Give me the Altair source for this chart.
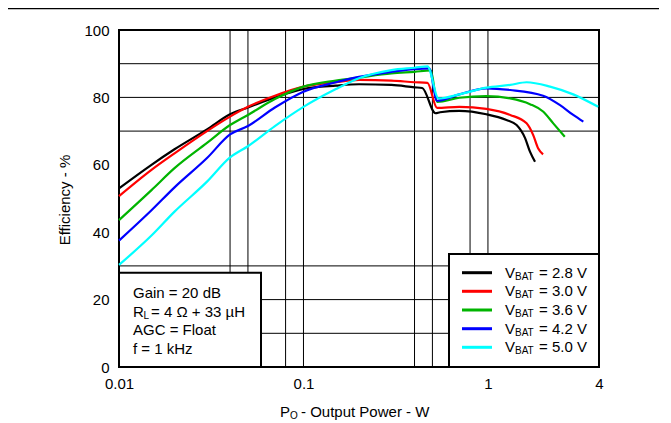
import altair as alt
import pandas as pd

# ---------------- data ----------------
series_names = ["2.8 V", "3.0 V", "3.6 V", "4.2 V", "5.0 V"]
series_colors = ["#000000", "#ff0000", "#00b400", "#0000ff", "#00ffff"]

x_28 = [0.01, 0.015, 0.02, 0.03, 0.04, 0.05, 0.07, 0.1, 0.15, 0.2, 0.3, 0.4, 0.44, 0.52, 0.55, 0.7, 0.98, 1.26, 1.43, 1.59, 1.69, 1.8]
y_28 = [53.0, 60.0, 64.6, 70.5, 75.0, 77.0, 80.0, 82.5, 83.5, 83.9, 83.7, 83.0, 82.8, 75.3, 75.6, 76.0, 75.0, 73.3, 71.8, 67.9, 63.9, 60.9]

x_30 = [0.01, 0.015, 0.02, 0.03, 0.04, 0.05, 0.07, 0.1, 0.15, 0.2, 0.3, 0.4, 0.47, 0.53, 0.7, 0.98, 1.32, 1.62, 1.76, 1.87, 1.99]
y_30 = [50.7, 58.5, 63.4, 70.0, 74.3, 77.2, 80.5, 83.2, 84.5, 85.2, 85.0, 84.5, 84.3, 76.9, 77.2, 76.6, 74.8, 72.3, 68.8, 64.9, 63.1]

x_36 = [0.01, 0.015, 0.02, 0.03, 0.04, 0.05, 0.07, 0.1, 0.15, 0.2, 0.3, 0.4, 0.49, 0.53, 0.7, 0.98, 1.32, 1.69, 1.99, 2.26, 2.61]
y_36 = [43.6, 52.5, 59.0, 66.5, 71.8, 74.8, 79.5, 83.2, 85.0, 85.9, 87.1, 87.6, 88.0, 78.7, 79.9, 80.4, 79.7, 78.0, 75.8, 72.3, 68.3]

x_42 = [0.01, 0.015, 0.02, 0.03, 0.04, 0.05, 0.07, 0.1, 0.15, 0.2, 0.3, 0.4, 0.48, 0.53, 0.7, 0.98, 1.32, 1.99, 2.46, 2.9, 3.29]
y_42 = [37.5, 46.5, 53.3, 62.0, 69.0, 71.5, 77.0, 81.7, 84.5, 86.1, 87.6, 88.4, 88.6, 79.0, 80.9, 82.7, 82.2, 80.5, 77.7, 74.8, 72.8]

x_50 = [0.01, 0.015, 0.02, 0.03, 0.04, 0.05, 0.07, 0.1, 0.15, 0.2, 0.3, 0.4, 0.47, 0.54, 0.7, 0.98, 1.32, 1.62, 2.17, 2.9, 3.96]
y_50 = [30.3, 39.0, 46.1, 55.0, 62.2, 65.5, 71.5, 77.2, 82.5, 85.7, 88.1, 88.8, 89.2, 79.7, 80.9, 82.9, 83.7, 84.5, 83.2, 80.9, 77.2]

x_tick_values = [0.01, 0.1, 1, 4]
y_tick_values = [0, 20, 40, 60, 80, 100]
x_grid_values = [0.04, 0.05, 0.08, 0.1, 0.4, 0.5, 0.8, 1]
y_grid_values = [10, 20, 30, 70, 80, 90]

info_lines = ["Gain = 20 dB", "AGC = Float", "f = 1 kHz"]

# ---------------- build table ----------------
rows = []
for name, xs, ys in zip(series_names, [x_28, x_30, x_36, x_42, x_50], [y_28, y_30, y_36, y_42, y_50]):
    for i, (xv, yv) in enumerate(zip(xs, ys)):
        rows.append({"series": name, "x": xv, "y": yv, "order": i})
df = pd.DataFrame(rows)

FONT = "Liberation Sans"
xscale = alt.Scale(type="log", domain=[0.01, 4], nice=False)
yscale = alt.Scale(domain=[0, 100], nice=False)
xaxis = alt.Axis(values=x_tick_values, format="~g", title=None, grid=False, domain=False,
                 ticks=False, labelFontSize=15, labelFont=FONT, labelColor="#000000",
                 labelPadding=9, labelFlush=False, labelOverlap=False)
yaxis = alt.Axis(values=y_tick_values, title=None, grid=False, domain=False, ticks=False,
                 labelFontSize=15, labelFont=FONT, labelColor="#000000", labelPadding=10)
one = pd.DataFrame({"a": [0]})

vgrid = alt.Chart(pd.DataFrame({"x": x_grid_values})).mark_rule(color="#000000", strokeWidth=1).encode(
    x=alt.X("x:Q", scale=xscale, axis=xaxis)
)
hgrid = alt.Chart(pd.DataFrame({"y": y_grid_values})).mark_rule(color="#000000", strokeWidth=1).encode(
    y=alt.Y("y:Q", scale=yscale, axis=yaxis)
)

lines = alt.Chart(df).mark_line(strokeWidth=2.2, interpolate="monotone").encode(
    x=alt.X("x:Q", scale=xscale, axis=xaxis),
    y=alt.Y("y:Q", scale=yscale, axis=yaxis),
    color=alt.Color("series:N", scale=alt.Scale(domain=series_names, range=series_colors), legend=None),
    order="order:Q",
)


def box(x1, x2, y1, y2):
    return alt.Chart(one).mark_rect(fill="white", stroke="black", strokeWidth=2).encode(
        x=alt.value(x1), x2=alt.value(x2), y=alt.value(y1), y2=alt.value(y2))


def txt(t, x, y, size=15, align="left", angle=0):
    return alt.Chart(one).mark_text(text=t, font=FONT, fontSize=size, align=align, baseline="middle",
                                    color="black", angle=angle).encode(x=alt.value(x), y=alt.value(y))


layers = [vgrid, hgrid, lines]

# top separator line
layers.append(alt.Chart(one).mark_rule(color="black", strokeWidth=1.5).encode(
    x=alt.value(-111), x2=alt.value(540), y=alt.value(-21.5)))

# info box
layers.append(box(0, 142, 242.7, 337))
info_y = [263, 300, 319]
for t, yy in zip(info_lines, info_y):
    layers.append(txt(t, 14, yy))
layers.append(txt("R", 14, 281.7))
layers.append(txt("L", 24.5, 285.5, size=10))
layers.append(txt("= 4 Ω + 33 µH", 32, 281.7))

# legend box
layers.append(box(330, 480, 224, 337))
leg_y = [242.7, 261.3, 280, 298.7, 317.3]
for name, col, yy in zip(series_names, series_colors, leg_y):
    layers.append(alt.Chart(one).mark_rule(color=col, strokeWidth=3).encode(
        x=alt.value(343), x2=alt.value(373), y=alt.value(yy)))
    layers.append(txt("V", 386, yy))
    layers.append(txt("BAT", 396, yy + 4, size=10))
    layers.append(txt("= " + name, 420, yy))

# axis titles
layers.append(txt("P", 161, 381.7))
layers.append(txt("O", 171, 385.5, size=10))
layers.append(txt("- Output Power - W", 182, 381.7))
layers.append(txt("Efficiency - %", -54, 170, align="center", angle=270))

chart = alt.layer(*layers).properties(
    width=480, height=337,
    autosize=alt.AutoSizeParams(type="none"),
    padding={"left": 111, "top": 22, "right": 60, "bottom": 54},
    background="white",
).configure_view(stroke="black", strokeWidth=2)

chart.save("out.html", embed_options={"renderer": "svg", "actions": False})
